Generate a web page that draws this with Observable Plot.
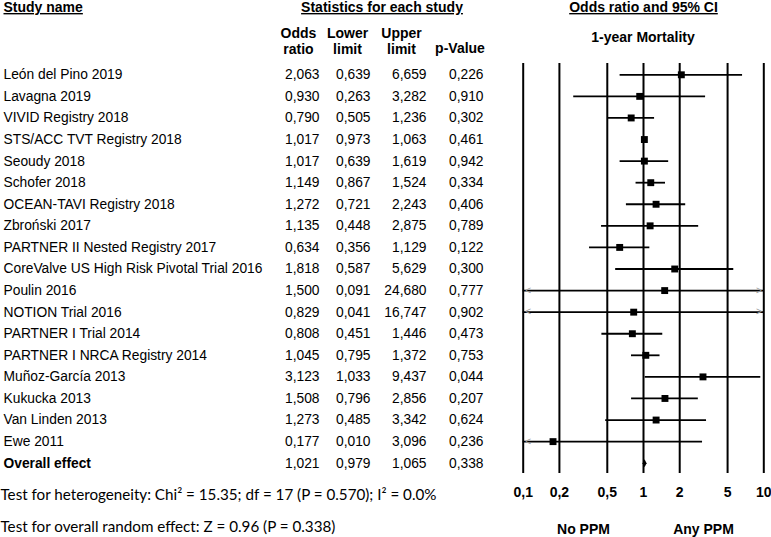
<!DOCTYPE html>
<html><head><meta charset="utf-8">
<script src="https://cdn.jsdelivr.net/npm/d3@7"></script>
<script src="https://cdn.jsdelivr.net/npm/@observablehq/plot@0.6"></script>
<style>body{margin:0;background:#fff} #chart{width:771px;height:537px}</style>
</head><body><div id="chart"></div>
<script>
const studies = ["León del Pino 2019","Lavagna 2019","VIVID Registry 2018","STS/ACC TVT Registry 2018","Seoudy 2018","Schofer 2018","OCEAN-TAVI Registry 2018","Zbroński 2017","PARTNER II Nested Registry 2017","CoreValve US High Risk Pivotal Trial 2016","Poulin 2016","NOTION Trial 2016","PARTNER I Trial 2014","PARTNER I NRCA Registry 2014","Muñoz-García 2013","Kukucka 2013","Van Linden 2013","Ewe 2011"];
const oddsRatio = [2.063,0.930,0.790,1.017,1.017,1.149,1.272,1.135,0.634,1.818,1.500,0.829,0.808,1.045,3.123,1.508,1.273,0.177];
const lowerLimit = [0.639,0.263,0.505,0.973,0.639,0.867,0.721,0.448,0.356,0.587,0.091,0.041,0.451,0.795,1.033,0.796,0.485,0.010];
const upperLimit = [6.659,3.282,1.236,1.063,1.619,1.524,2.243,2.875,1.129,5.629,24.680,16.747,1.446,1.372,9.437,2.856,3.342,3.096];
const pValue = [0.226,0.910,0.302,0.461,0.942,0.334,0.406,0.789,0.122,0.300,0.777,0.902,0.473,0.753,0.044,0.207,0.624,0.236];
const overallName = "Overall effect";
const overallValues = [1.021, 0.979, 1.065, 0.338];
const xTicks = [0.1, 0.2, 0.5, 1, 2, 5, 10];
const tickLabels = ["0,1", "0,2", "0,5", "1", "2", "5", "10"];
const favourLabels = ["No PPM", "Any PPM"];
const heterogeneityText = "Test for heterogeneity: Chi² = 15.35; df = 17 (P = 0.570); I² = 0.0%";
const overallTestText = "Test for overall random effect: Z = 0.96 (P = 0.338)";

const studyRows = studies.map((name, i) => ({name, or: oddsRatio[i], lo: lowerLimit[i], hi: upperLimit[i], p: pValue[i]}));
const overallRow = {name: overallName, or: overallValues[0], lo: overallValues[1], hi: overallValues[2], p: overallValues[3]};
const allRows = [...studyRows, overallRow];
const fmt = v => d3.format(".3f")(v).replace(".", ",");
const X0 = 0.1, X1 = 10;

const narrowDiamond = {
  draw(ctx, size) {
    const h = 4, w = 2;
    ctx.moveTo(0, -h); ctx.lineTo(w, 0); ctx.lineTo(0, h); ctx.lineTo(-w, 0); ctx.closePath();
  }
};

const FONT = "'Liberation Sans', Arial, sans-serif";
const FS = 13.8;
const colRight = {or: 319, lo: 370, hi: 426, p: 483};

const hdr = (txt, x, y, anchor, opts = {}) => Plot.text([txt], {text: d => d, frameAnchor: "top-left", dx: x, dy: y, textAnchor: anchor, lineAnchor: "middle", fontWeight: "bold", fontSize: 14, fill: "#000", ...opts});

const plot = Plot.plot({
  width: 771, height: 537,
  margin: 0,
  style: {fontFamily: FONT, fontSize: "14px", background: "#fff", color: "#000"},
  x: {type: "log", domain: [X0, X1], range: [522.7, 763.3], axis: null},
  y: {type: "point", domain: allRows.map(d => d.name), range: [74.3, 462.7], padding: 0, round: false, axis: null},
  marks: [
    Plot.ruleX(xTicks, {x: d => d, stroke: "#000", strokeWidth: 2, insetTop: 63, insetBottom: 64}),
    Plot.ruleY(studyRows, {y: "name", x1: d => Math.max(d.lo, X0), x2: d => Math.min(d.hi, X1), stroke: "#000", strokeWidth: 1.8}),
    Plot.text(studyRows.filter(d => d.lo < X0), {y: "name", x: () => X0, text: () => "<", dx: 5, fill: "#999", fontSize: 10, lineAnchor: "middle"}),
    Plot.text(studyRows.filter(d => d.hi > X1), {y: "name", x: () => X1, text: () => ">", dx: -5, fill: "#999", fontSize: 10, lineAnchor: "middle"}),
    Plot.dot(studyRows, {x: "or", y: "name", symbol: "square", r: 3.9, fill: "#000", stroke: "none"}),
    Plot.dot([overallRow], {x: "or", y: "name", symbol: narrowDiamond, r: 3, fill: "#000", stroke: "none"}),
    Plot.text(xTicks, {x: d => d, text: (d, i) => tickLabels[i], frameAnchor: "top", dy: 492, lineAnchor: "middle", fontWeight: "bold", fontSize: 14, fill: "#000"}),
    hdr(favourLabels[0], 583, 529, "middle"),
    hdr(favourLabels[1], 703, 529, "middle"),
    Plot.text(studyRows, {y: "name", text: "name", frameAnchor: "left", dx: 3, textAnchor: "start", lineAnchor: "middle", fontSize: FS, fill: "#000"}),
    Plot.text([overallRow], {y: "name", text: "name", frameAnchor: "left", dx: 3, textAnchor: "start", lineAnchor: "middle", fontSize: FS, fontWeight: "bold", fill: "#000"}),
    ...Object.entries(colRight).map(([k, xr]) => Plot.text(allRows, {y: "name", text: d => fmt(d[k]), frameAnchor: "left", dx: xr, textAnchor: "end", lineAnchor: "middle", fontSize: FS, fill: "#000"})),
    hdr("Study name", 3, 7, "start"),
    hdr("Statistics for each study", 381.5, 7, "middle"),
    hdr("Odds ratio and 95% CI", 643, 7, "middle"),
    hdr("1-year Mortality", 642.5, 37, "middle"),
    hdr("Odds\nratio", 298, 40, "middle", {lineHeight: 1.15}),
    hdr("Lower\nlimit", 347, 40, "middle", {lineHeight: 1.15}),
    hdr("Upper\nlimit", 401, 40, "middle", {lineHeight: 1.15}),
    hdr("p-Value", 459.5, 48, "middle"),
    Plot.text([heterogeneityText], {text: d => d, frameAnchor: "top-left", dx: 0, dy: 495, textAnchor: "start", lineAnchor: "middle", fontFamily: "Lato, sans-serif", fontSize: 15.2, fill: "#000"}),
    Plot.text([overallTestText], {text: d => d, frameAnchor: "top-left", dx: 0, dy: 526.5, textAnchor: "start", lineAnchor: "middle", fontFamily: "Lato, sans-serif", fontSize: 15.2, fill: "#000"})
  ]
});

plot.querySelectorAll("text").forEach(t => {
  if (["Study name", "Statistics for each study", "Odds ratio and 95% CI"].includes(t.textContent)) {
    t.style.textDecoration = "underline";
  }
});
document.getElementById("chart").appendChild(plot);
</script>
</body></html>
